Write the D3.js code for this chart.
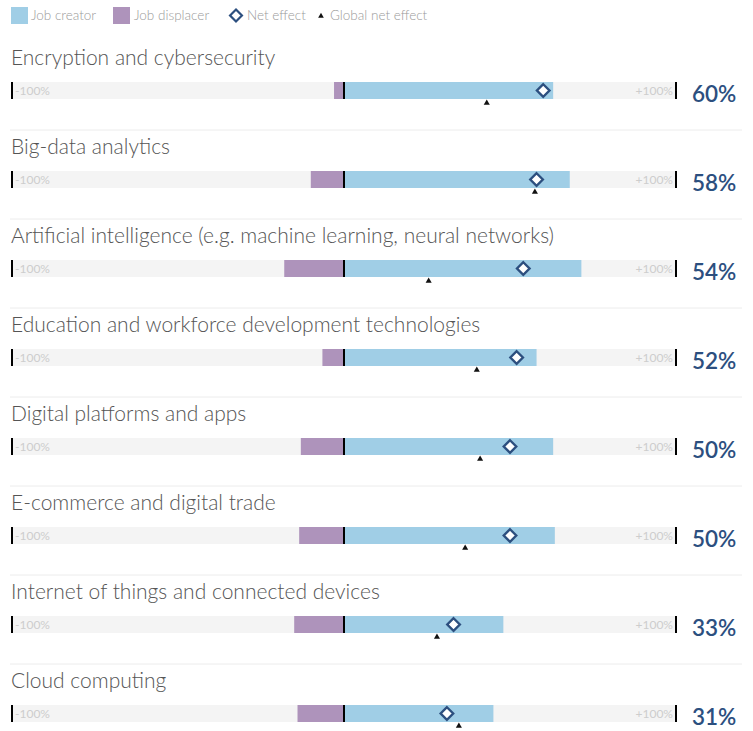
<!DOCTYPE html>
<html>
<head>
<meta charset="utf-8">
<script src="https://cdn.jsdelivr.net/npm/d3@7"></script>
<style>
  html, body { margin: 0; padding: 0; background: #fff; }
  svg { display: block; }
  text { font-family: "Helvetica Neue", Lato, "Liberation Sans", sans-serif; }
</style>
</head>
<body>
<svg id="chart" width="753" height="731"></svg>
<script>
const categories = [
  "Encryption and cybersecurity",
  "Big-data analytics",
  "Artificial intelligence (e.g. machine learning, neural networks)",
  "Education and workforce development technologies",
  "Digital platforms and apps",
  "E-commerce and digital trade",
  "Internet of things and connected devices",
  "Cloud computing"
];
const jobCreator   = [63, 68, 71.5, 58, 63, 63.5, 48, 45];
const jobDisplacer = [3, 10, 18, 6.5, 13, 13.5, 15, 14];
const netEffect    = [60, 58, 54, 52, 50, 50, 33, 31];
const globalNet    = [43, 57.5, 25.5, 40, 41, 36.5, 28, 34.6];
const axisLabels   = ["-100%", "+100%"];
const legendItems  = ["Job creator", "Job displacer", "Net effect", "Global net effect"];

const colors = { creator: "#a0cee6", displacer: "#ae93bb", net: "#2c4f7f", track: "#f4f4f4", global: "#111" };

const svg = d3.select("#chart");
const x = d3.scaleLinear().domain([-100, 100]).range([12, 676]);
const y = d3.scaleBand().domain(d3.range(categories.length)).range([82 - 40, 82 - 40 + 89 * categories.length]);
const barTop = i => y(i) + 40;
const barH = 17;

// Legend
const lg = svg.append("g");
lg.append("rect").attr("x", 11).attr("y", 7).attr("width", 17).attr("height", 17).attr("fill", colors.creator);
lg.append("text").attr("x", 31).attr("y", 20).text(legendItems[0]);
lg.append("rect").attr("x", 113).attr("y", 7).attr("width", 17).attr("height", 17).attr("fill", colors.displacer);
lg.append("text").attr("x", 134).attr("y", 20).text(legendItems[1]);
lg.append("path").attr("d", d3.symbol(d3.symbolDiamond2, 90)()).attr("transform", "translate(236,15.5)")
  .attr("fill", "#fff").attr("stroke", colors.net).attr("stroke-width", 2.2);
lg.append("text").attr("x", 247).attr("y", 20).text(legendItems[2]);
lg.append("path").attr("d", d3.symbol(d3.symbolTriangle, 14)()).attr("transform", "translate(321,16)").attr("fill", colors.global);
lg.append("text").attr("x", 330).attr("y", 20).text(legendItems[3]);
lg.selectAll("text").attr("font-size", 13.5).attr("fill", "#9a9a9a").attr("font-weight", 300);

const rows = svg.selectAll("g.row").data(categories).join("g").attr("class", "row")
  .attr("transform", (d, i) => `translate(0,${barTop(i)})`);

// separators
rows.filter((d, i) => i < categories.length - 1).append("line")
  .attr("x1", 10).attr("x2", 742).attr("y1", 48).attr("y2", 48)
  .attr("stroke", "#ececec").attr("stroke-width", 1);

rows.append("text").attr("x", 11).attr("y", -17).text(d => d)
  .attr("font-size", 21).attr("fill", "#555").attr("font-weight", 300);

rows.append("rect").attr("x", x(-100)).attr("y", 0).attr("width", x(100) - x(-100)).attr("height", barH).attr("fill", colors.track);

rows.append("text").attr("x", x(-100) + 3).attr("y", 13).text(axisLabels[0])
  .attr("font-size", 12).attr("fill", "#cdcdcd");
rows.append("text").attr("x", x(100) - 3).attr("y", 13).attr("text-anchor", "end").text(axisLabels[1])
  .attr("font-size", 12).attr("fill", "#cdcdcd");

rows.append("rect").attr("x", (d, i) => x(-jobDisplacer[i])).attr("y", 0)
  .attr("width", (d, i) => x(0) - x(-jobDisplacer[i])).attr("height", barH).attr("fill", colors.displacer);
rows.append("rect").attr("x", x(0)).attr("y", 0)
  .attr("width", (d, i) => x(jobCreator[i]) - x(0)).attr("height", barH).attr("fill", colors.creator);

[-100, 0, 100].forEach(v => {
  rows.append("line").attr("x1", x(v)).attr("x2", x(v)).attr("y1", 0).attr("y2", barH)
    .attr("stroke", "#000").attr("stroke-width", 2);
});

rows.append("path").attr("d", d3.symbol(d3.symbolTriangle, 16)())
  .attr("transform", (d, i) => `translate(${x(globalNet[i])},${barH + 4})`).attr("fill", colors.global);

rows.append("path").attr("d", d3.symbol(d3.symbolDiamond2, 100)())
  .attr("transform", (d, i) => `translate(${x(netEffect[i])},${barH / 2})`)
  .attr("fill", "#fff").attr("stroke", colors.net).attr("stroke-width", 2.4);

rows.append("text").attr("x", 692).attr("y", 20).text((d, i) => netEffect[i] + "%")
  .attr("font-size", 22.5).attr("fill", colors.net).attr("font-weight", 600);
</script>
</body>
</html>
